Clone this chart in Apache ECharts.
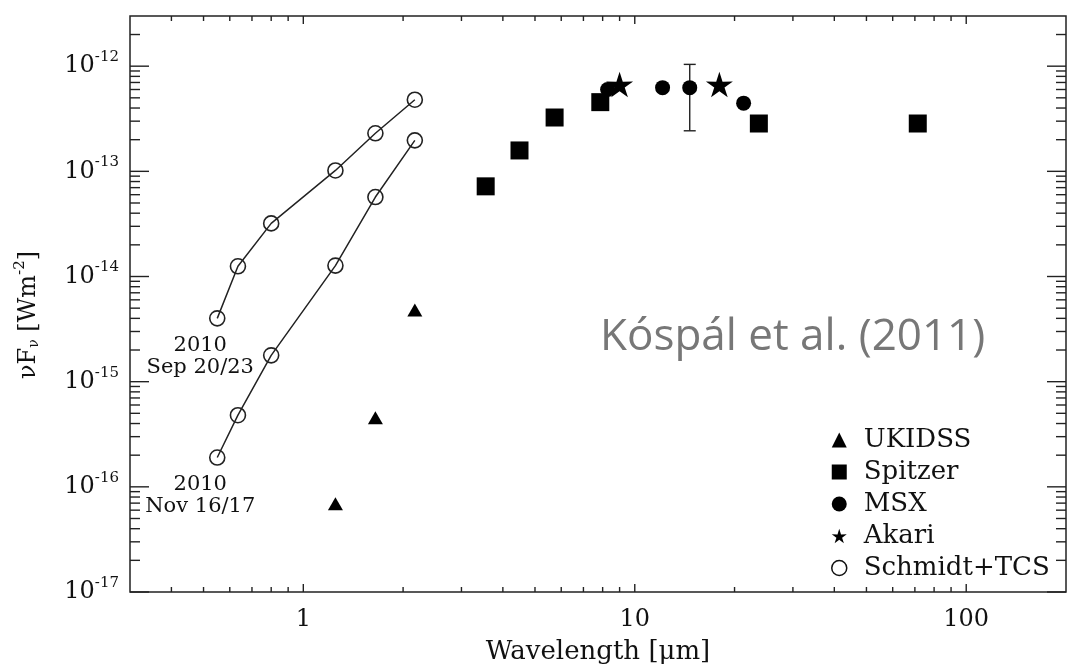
<!DOCTYPE html>
<html>
<head>
<meta charset="utf-8">
<script src="https://cdn.jsdelivr.net/npm/echarts@6/dist/echarts.min.js"></script>
<style>
html,body{margin:0;padding:0;background:#fff;}
#chart{width:1069px;height:670px;}
</style>
</head>
<body>
<div id="chart"></div>
<script>
// ---- data (wavelength in micron, nuFnu in W m^-2) ----
const schmidtWave = [0.55, 0.635, 0.80, 1.25, 1.65, 2.17];
const sepFlux = [4.0e-15, 1.25e-14, 3.2e-14, 1.02e-13, 2.3e-13, 4.8e-13];
const novFlux = [1.9e-16, 4.8e-16, 1.78e-15, 1.27e-14, 5.7e-14, 1.97e-13];
const ukidssWave = [1.25, 1.65, 2.17];
const ukidssFlux = [6.9e-17, 4.55e-16, 4.8e-15];
const spitzerWave = [3.55, 4.49, 5.73, 7.87, 23.68, 71.42];
const spitzerFlux = [7.2e-14, 1.58e-13, 3.25e-13, 4.55e-13, 2.85e-13, 2.85e-13];
const msxWave = [8.28, 12.13, 14.65, 21.3];
const msxFlux = [6.0e-13, 6.25e-13, 6.25e-13, 4.45e-13];
const msxErrLow = [null, null, 2.43e-13, null];
const msxErrHigh = [null, null, 1.04e-12, null];
const akariWave = [9, 18];
const akariFlux = [6.7e-13, 6.7e-13];
const sepLabel = '2010\nSep 20/23';
const novLabel = '2010\nNov 16/17';
const legendNames = ['UKIDSS', 'Spitzer', 'MSX', 'Akari', 'Schmidt+TCS'];
const xMajorTicks = [1, 10, 100];
const yMajorTicks = [1e-17, 1e-16, 1e-15, 1e-14, 1e-13, 1e-12];
const xLabelText = 'Wavelength [μm]';
const noteText = 'Kóspál et al. (2011)';

const X_MIN = 0.3, X_MAX = 200, Y_MIN = 1e-17, Y_MAX = 3e-12;
const SERIF = 'DejaVu Serif';
const INK = '#111';

// minor tick values (2..9 x 10^k) within range
function minorTicks(lo, hi) {
  const out = [];
  for (let e = Math.floor(Math.log10(lo)); e <= Math.ceil(Math.log10(hi)); e++) {
    for (let m = 2; m <= 9; m++) {
      const v = m * Math.pow(10, e);
      if (v > lo * 1.0001 && v < hi * 0.9999) out.push(v);
    }
  }
  return out;
}
const xTickData = xMajorTicks.map(v => [v, 1e-15, 1]).concat(minorTicks(X_MIN, X_MAX).map(v => [v, 1e-15, 0]));
const yTickData = yMajorTicks.map(v => [1, v, 1]).concat(minorTicks(Y_MIN, Y_MAX).map(v => [1, v, 0]));

function isPow10(v) {
  const l = Math.log10(v);
  return Math.abs(l - Math.round(l)) < 1e-6;
}

const starPath = 'path://M50,0 L61.2,35.4 L97.6,34.5 L68.1,55.9 L79.4,90.5 L50,69 L20.6,90.5 L31.9,55.9 L2.4,34.5 L38.8,35.4 Z';

function lineData(wave, flux, label) {
  return wave.map((w, i) => {
    const d = { value: [w, flux[i]] };
    if (i === 0) {
      d.label = {
        show: true, formatter: label, position: 'bottom', distance: 8,
        offset: [-17, 0], fontFamily: SERIF, fontSize: 21, lineHeight: 22,
        color: INK, align: 'center'
      };
    }
    return d;
  });
}

const tickStyle = { stroke: '#222', lineWidth: 1.4 };
const solid = { color: '#000', opacity: 1 };

const option = {
  animation: false,
  backgroundColor: '#fff',
  grid: { left: 130, right: 2, top: 16, bottom: 75, show: true, borderColor: '#222', borderWidth: 1.5, containLabel: false },
  xAxis: {
    type: 'log', logBase: 10, min: X_MIN, max: X_MAX,
    axisLine: { show: false }, axisTick: { show: false }, splitLine: { show: false },
    axisLabel: {
      margin: 16, fontFamily: SERIF, fontSize: 24, color: INK,
      formatter: v => (isPow10(v) && v >= 1 ? String(Math.round(v)) : '')
    },
    name: xLabelText, nameLocation: 'middle', nameGap: 47,
    nameTextStyle: { fontFamily: SERIF, fontSize: 26, color: INK }
  },
  yAxis: {
    type: 'log', logBase: 10, min: Y_MIN, max: Y_MAX,
    axisLine: { show: false }, axisTick: { show: false }, splitLine: { show: false },
    axisLabel: {
      margin: 11, color: INK,
      formatter: v => isPow10(v) ? '{m|10}{s|' + Math.round(Math.log10(v)) + '}' : '',
      rich: {
        m: { fontFamily: SERIF, fontSize: 24, color: INK },
        s: { fontFamily: SERIF, fontSize: 15, color: INK, padding: [0, 0, 18, 0] }
      }
    },
    name: '{a|νF}{b|ν}{a| [Wm}{c|-2}{a|]}', nameLocation: 'middle', nameRotate: 90, nameGap: 86,
    nameTextStyle: {
      color: INK, padding: [0, 22, 0, 0],
      rich: {
        a: { fontFamily: SERIF, fontSize: 24, color: INK },
        b: { fontFamily: SERIF, fontSize: 14, color: INK, padding: [12, 0, 0, 0] },
        c: { fontFamily: SERIF, fontSize: 15, color: INK, padding: [0, 0, 16, 0] }
      }
    }
  },
  legend: {
    orient: 'vertical', left: 826, top: 422,
    itemWidth: 15, itemHeight: 15, itemGap: 6,
    textStyle: { fontFamily: SERIF, fontSize: 26, lineHeight: 26, color: INK, padding: [0, 0, 0, 12] },
    data: [
      'UKIDSS', 'Spitzer', 'MSX',
      { name: 'Akari' },
      { name: 'Schmidt+TCS', icon: 'circle', itemStyle: { color: '#fff', borderColor: INK, borderWidth: 1.5 } }
    ],
    selectedMode: false
  },
  graphic: [{
    type: 'text', left: 600, top: 315, silent: true,
    style: { text: noteText, fontFamily: 'Open Sans', fontSize: 44, fill: '#777' }
  }],
  series: [
    {
      type: 'custom', name: 'xticks', silent: true, clip: false, z: 10,
      data: xTickData,
      renderItem: function (params, api) {
        const cs = params.coordSys;
        const p = api.coord([api.value(0), api.value(1)]);
        const L = api.value(2) ? 8 : 5;
        const bottom = cs.y + cs.height, top = cs.y;
        return { type: 'group', children: [
          { type: 'line', shape: { x1: p[0], y1: bottom, x2: p[0], y2: bottom - L }, style: tickStyle },
          { type: 'line', shape: { x1: p[0], y1: top, x2: p[0], y2: top + L }, style: tickStyle }
        ]};
      }
    },
    {
      type: 'custom', name: 'yticks', silent: true, clip: false, z: 10,
      data: yTickData,
      renderItem: function (params, api) {
        const cs = params.coordSys;
        const p = api.coord([api.value(0), api.value(1)]);
        const L = api.value(2) ? 19 : 10;
        const left = cs.x, right = cs.x + cs.width;
        return { type: 'group', children: [
          { type: 'line', shape: { x1: left, y1: p[1], x2: left + L, y2: p[1] }, style: tickStyle },
          { type: 'line', shape: { x1: right, y1: p[1], x2: right - L, y2: p[1] }, style: tickStyle }
        ]};
      }
    },
    {
      type: 'custom', name: 'msxErr', silent: true, z: 3,
      data: msxWave.map((w, i) => [w, msxErrLow[i], msxErrHigh[i]]).filter(d => d[1] != null),
      renderItem: function (params, api) {
        const lo = api.coord([api.value(0), api.value(1)]);
        const hi = api.coord([api.value(0), api.value(2)]);
        const c = 6;
        return { type: 'group', children: [
          { type: 'line', shape: { x1: lo[0], y1: lo[1], x2: hi[0], y2: hi[1] }, style: tickStyle },
          { type: 'line', shape: { x1: lo[0] - c, y1: lo[1], x2: lo[0] + c, y2: lo[1] }, style: tickStyle },
          { type: 'line', shape: { x1: hi[0] - c, y1: hi[1], x2: hi[0] + c, y2: hi[1] }, style: tickStyle }
        ]};
      }
    },
    {
      type: 'line', name: 'Schmidt+TCS', data: lineData(schmidtWave, sepFlux, sepLabel),
      symbol: 'circle', symbolSize: 15, z: 4,
      lineStyle: { color: '#222', width: 1.5 },
      itemStyle: { color: 'rgba(255,255,255,0)', borderColor: '#222', borderWidth: 1.6, opacity: 1 }
    },
    {
      type: 'line', name: 'Schmidt+TCS', data: lineData(schmidtWave, novFlux, novLabel),
      symbol: 'circle', symbolSize: 15, z: 4,
      lineStyle: { color: '#222', width: 1.5 },
      itemStyle: { color: 'rgba(255,255,255,0)', borderColor: '#222', borderWidth: 1.6, opacity: 1 }
    },
    {
      type: 'scatter', name: 'UKIDSS', data: ukidssWave.map((w, i) => [w, ukidssFlux[i]]),
      symbol: 'triangle', symbolSize: [15, 13], itemStyle: solid, z: 5
    },
    {
      type: 'scatter', name: 'Spitzer', data: spitzerWave.map((w, i) => [w, spitzerFlux[i]]),
      symbol: 'rect', symbolSize: 18, itemStyle: solid, z: 5
    },
    {
      type: 'scatter', name: 'MSX', data: msxWave.map((w, i) => [w, msxFlux[i]]),
      symbol: 'circle', symbolSize: 15, itemStyle: solid, z: 5
    },
    {
      type: 'scatter', name: 'Akari', data: akariWave.map((w, i) => [w, akariFlux[i]]),
      symbol: starPath, symbolKeepAspect: true, symbolSize: 27, itemStyle: solid, z: 6
    }
  ]
};

const chart = echarts.init(document.getElementById('chart'), null, { renderer: 'canvas' });
chart.setOption(option);
</script>
</body>
</html>
